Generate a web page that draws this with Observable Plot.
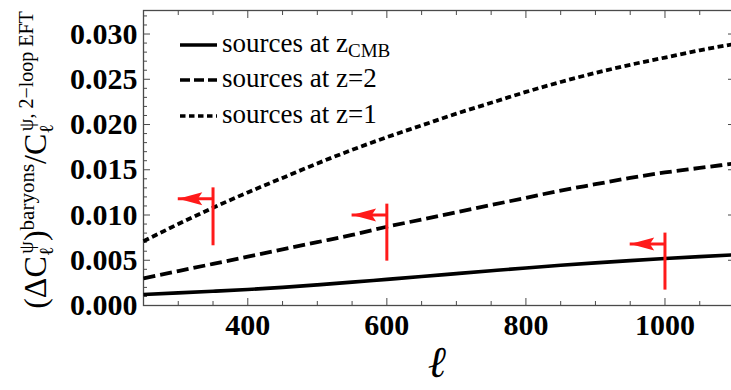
<!DOCTYPE html>
<html><head><meta charset="utf-8">
<script src="https://cdn.jsdelivr.net/npm/d3@7"></script>
<script src="https://cdn.jsdelivr.net/npm/@observablehq/plot@0.6"></script>
<style>
html,body{margin:0;padding:0;background:#fff}
svg{display:block}
g[aria-label="x-axis tick label"], g[aria-label="y-axis tick label"] {font-family:"Liberation Serif" !important; font-size:30px !important; font-weight:bold !important; font-variant:normal !important;}
</style>
</head><body><div id="chart"></div>
<script>
// multipole ell
const ell = [250,300,350,400,450,500,550,600,650,700,750,800,850,900,950,1000,1050,1100];
// (ΔC)^baryons / C^{2-loop EFT}
const srcCMB = [0.00122,0.00139,0.00157,0.00177,0.00200,0.00228,0.00258,0.00289,0.00320,0.00352,0.00384,0.00415,0.00444,0.00471,0.00496,0.00519,0.00540,0.00560];
const srcZ2  = [0.0030,0.0038,0.0046,0.0054,0.0062,0.0070,0.0078,0.0087,0.0095,0.0103,0.0111,0.0119,0.0127,0.0134,0.0141,0.0147,0.0152,0.0157];
const srcZ1  = [0.0071,0.0090,0.0108,0.0125,0.0141,0.0157,0.0172,0.0186,0.0199,0.0212,0.0224,0.0236,0.0247,0.0257,0.0266,0.0274,0.0282,0.0289];
const seriesNames = ["sources at z_CMB","sources at z=2","sources at z=1"];
// red markers (ell limits with leftward arrows)
const markerEll   = [350, 600, 1000];
const markerTip   = [300, 550, 950];
const markerLow   = [0.0066, 0.0049, 0.0017];
const markerHigh  = [0.0130, 0.0112, 0.0080];
const markerArrow = [0.0118, 0.0100, 0.0068];
// ticks
const xLabelTicks = [400, 600, 800, 1000];
const xMinorTicks = [300,350,450,500,550,650,700,750,850,900,950,1050];
const yMajorTicks = [0, 0.005, 0.010, 0.015, 0.020, 0.025, 0.030];
const yMinorTicks = d3.range(0, 33).map(i => i / 1000).filter(v => Math.round(v * 1000) % 5 !== 0);
const xDomain = [250, 1100];
const yDomain = [0, 0.0326];

const rows = [srcCMB, srcZ2, srcZ1].flatMap((arr, s) => arr.map((v, i) => ({ell: ell[i], v, series: seriesNames[s]})));
const markers = markerEll.map((e, i) => ({ell: e, tip: markerTip[i], low: markerLow[i], high: markerHigh[i], arrow: markerArrow[i]}));

const arrowHead = {
  draw(ctx) {
    const L = 24, h = 6.5;
    ctx.moveTo(0, 0);
    ctx.lineTo(L, -h);
    ctx.lineTo(L * 0.82, 0);
    ctx.lineTo(L, h);
    ctx.closePath();
  }
};

const axisColor = "#4a4a4a";

const chart = Plot.plot({
  width: 731, height: 390,
  marginLeft: 143, marginRight: -3, marginTop: 10, marginBottom: 85,
  style: {background: "#fff", fontFamily: "Liberation Serif"},
  x: {domain: xDomain},
  y: {domain: yDomain},
  marks: [
    // ticks (inward)
    Plot.axisX(xLabelTicks, {anchor: "bottom", tickSize: -7, tickFormat: () => "", stroke: axisColor, label: null}),
    Plot.axisX(xMinorTicks, {anchor: "bottom", tickSize: -4, tickFormat: () => "", stroke: axisColor, label: null}),
    Plot.axisX(xLabelTicks, {anchor: "top", tickSize: -7, tickFormat: () => "", stroke: axisColor, label: null}),
    Plot.axisX(xMinorTicks, {anchor: "top", tickSize: -4, tickFormat: () => "", stroke: axisColor, label: null}),
    Plot.axisY(yMajorTicks, {anchor: "left", tickSize: -7, tickFormat: () => "", stroke: axisColor, label: null}),
    Plot.axisY(yMinorTicks, {anchor: "left", tickSize: -4, tickFormat: () => "", stroke: axisColor, label: null}),
    Plot.axisY(yMajorTicks, {anchor: "right", tickSize: -7, tickFormat: () => "", stroke: axisColor, label: null}),
    Plot.axisY(yMinorTicks, {anchor: "right", tickSize: -4, tickFormat: () => "", stroke: axisColor, label: null}),
    // tick labels
    Plot.axisX(xLabelTicks, {anchor: "bottom", tickSize: 0, tickPadding: 8, tickFormat: d => String(d), label: null, fill: "#000"}),
    Plot.axisY(yMajorTicks, {anchor: "left", tickSize: 0, tickPadding: 6, tickFormat: d3.format(".3f"), label: null, fill: "#000"}),
    Plot.frame({stroke: axisColor, strokeWidth: 1.3}),
    // curves
    Plot.line(rows.filter(d => d.series === seriesNames[0]), {x: "ell", y: "v", stroke: "#000", strokeWidth: 3.6, strokeLinecap: "butt", curve: "monotone-x"}),
    Plot.line(rows.filter(d => d.series === seriesNames[1]), {x: "ell", y: "v", stroke: "#000", strokeWidth: 3.8, strokeLinecap: "butt", strokeDasharray: "12,5", curve: "monotone-x"}),
    Plot.line(rows.filter(d => d.series === seriesNames[2]), {x: "ell", y: "v", stroke: "#000", strokeWidth: 3.8, strokeLinecap: "butt", strokeDasharray: "6,3.5", curve: "monotone-x"}),
    // red markers
    Plot.ruleX(markers, {x: "ell", y1: "low", y2: "high", stroke: "#ff1a1a", strokeWidth: 3}),
    Plot.ruleY(markers, {y: "arrow", x1: "tip", x2: "ell", stroke: "#ff1a1a", strokeWidth: 3}),
    Plot.dot(markers, {x: "tip", y: "arrow", symbol: arrowHead, fill: "#ff1a1a", stroke: null, r: 5})
  ]
});

document.getElementById("chart").appendChild(chart);
const svg = d3.select(chart);

// y-axis label
const yl = svg.append("text")
  .attr("transform", "translate(46,160) rotate(-90)")
  .attr("text-anchor", "middle")
  .attr("font-family", "Liberation Serif")
  .attr("font-size", 32)
  .attr("fill", "#000");
yl.append("tspan").text("(ΔC");
yl.append("tspan").attr("font-size", 20).attr("dy", 7).text("ℓ");
yl.append("tspan").attr("font-size", 20).attr("dx", -7).attr("dy", -20).text("ψ");
yl.append("tspan").attr("dy", 13).text(")");
yl.append("tspan").attr("font-size", 21).attr("dy", -12).text("baryons");
yl.append("tspan").attr("dy", 12).text("/C");
yl.append("tspan").attr("font-size", 20).attr("dy", 7).text("ℓ");
yl.append("tspan").attr("font-size", 20).attr("dx", -7).attr("dy", -20).text("ψ, 2−loop EFT");

// x-axis label
svg.append("text")
  .attr("x", 438).attr("y", 377)
  .attr("text-anchor", "middle")
  .attr("font-family", "DejaVu Serif")
  .attr("font-style", "italic").attr("font-weight", "bold")
  .attr("font-size", 44)
  .attr("fill", "#000")
  .text("ℓ");

// legend
const legendY = [52, 87, 123];
const dashes = [null, "10,4", "5.5,3.5"];
const lg = svg.append("g").attr("font-family", "Liberation Serif").attr("font-size", 27).attr("fill", "#000").attr("text-anchor", "start");
seriesNames.forEach((name, i) => {
  lg.append("line").attr("x1", 180).attr("x2", 217)
    .attr("y1", legendY[i] - 7).attr("y2", legendY[i] - 7)
    .attr("stroke", "#000").attr("stroke-width", 3.6)
    .attr("stroke-dasharray", dashes[i]);
  const t = lg.append("text").attr("x", 222).attr("y", legendY[i]).attr("text-anchor", "start");
  if (name.includes("_")) {
    const [a, b] = name.split("_");
    t.append("tspan").text(a);
    t.append("tspan").attr("font-size", 19).attr("dy", 5).text(b);
  } else {
    t.text(name);
  }
});
</script>
</body></html>
